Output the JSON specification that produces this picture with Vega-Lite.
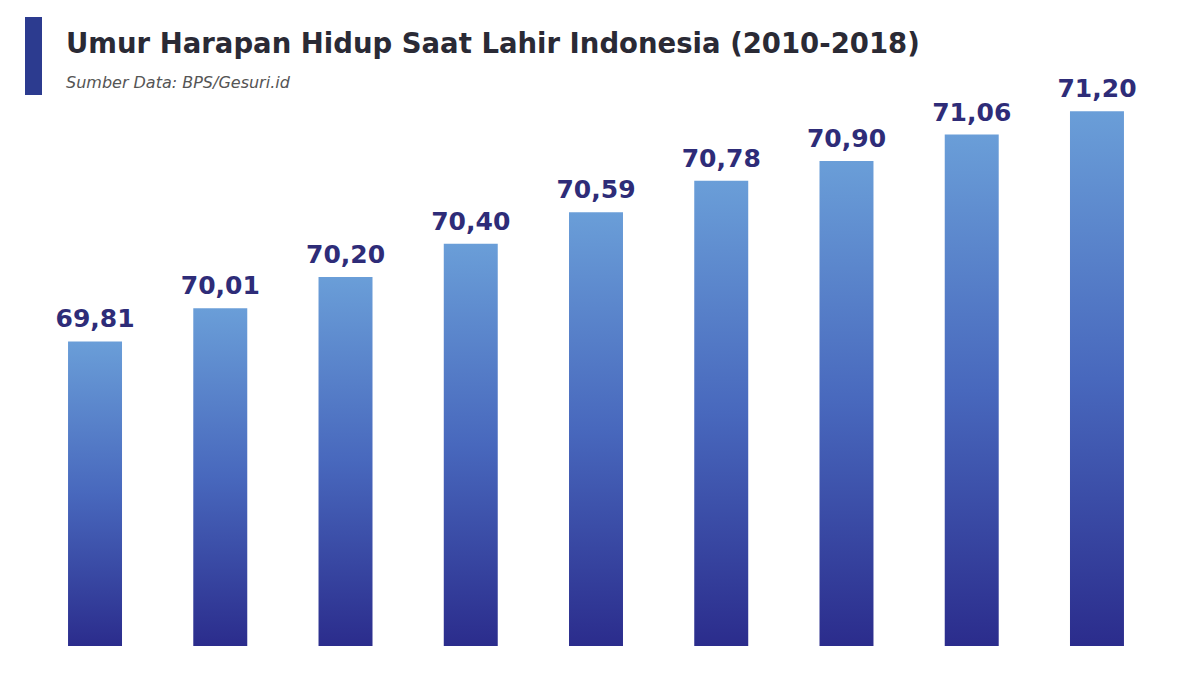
{
  "$schema": "https://vega.github.io/schema/vega-lite/v6.json",
  "background": "white",
  "padding": {"left": 25, "top": 17, "right": 0, "bottom": 0},
  "spacing": 8,
  "config": {"view": {"stroke": null}},
  "datasets": {
    "uhh": [
      {"tahun": "2010", "nilai": 69.81},
      {"tahun": "2011", "nilai": 70.01},
      {"tahun": "2012", "nilai": 70.20},
      {"tahun": "2013", "nilai": 70.40},
      {"tahun": "2014", "nilai": 70.59},
      {"tahun": "2015", "nilai": 70.78},
      {"tahun": "2016", "nilai": 70.90},
      {"tahun": "2017", "nilai": 71.06},
      {"tahun": "2018", "nilai": 71.20}
    ]
  },
  "hconcat": [
    {
      "width": 17,
      "height": 78,
      "view": {"fill": "#2c3b8f", "stroke": null},
      "data": {"values": []},
      "mark": "point"
    },
    {
      "width": 1092,
      "height": 629,
      "title": {
        "text": "Umur Harapan Hidup Saat Lahir Indonesia (2010-2018)",
        "subtitle": "Sumber Data: BPS/Gesuri.id",
        "anchor": "start",
        "frame": "group",
        "dx": 16,
        "offset": -74,
        "font": "DejaVu Sans",
        "fontSize": 27.5,
        "fontWeight": "bold",
        "color": "#2a2a35",
        "subtitleFont": "DejaVu Sans",
        "subtitleFontSize": 16,
        "subtitleFontStyle": "italic",
        "subtitleColor": "#555555",
        "subtitlePadding": 17
      },
      "data": {"name": "uhh"},
      "transform": [
        {"calculate": "replace(format(datum.nilai, '.2f'), '.', ',')", "as": "label"}
      ],
      "encoding": {
        "x": {
          "field": "tahun",
          "type": "nominal",
          "axis": null,
          "scale": {"paddingInner": 0.569, "paddingOuter": 0.144}
        },
        "y": {
          "field": "nilai",
          "type": "quantitative",
          "axis": null,
          "scale": {"domain": [67.97, 71.77], "zero": false, "nice": false}
        }
      },
      "layer": [
        {
          "mark": {
            "type": "bar",
            "color": {
              "gradient": "linear",
              "x1": 0, "y1": 0, "x2": 0, "y2": 1,
              "stops": [
                {"offset": 0, "color": "#6a9ed8"},
                {"offset": 0.5, "color": "#4868bd"},
                {"offset": 1, "color": "#2b2c8c"}
              ]
            }
          },
          "encoding": {"y2": {"datum": 67.97}}
        },
        {
          "mark": {
            "type": "text",
            "baseline": "alphabetic",
            "dy": -14,
            "font": "DejaVu Sans",
            "fontSize": 25,
            "fontWeight": "bold",
            "color": "#2e2c78"
          },
          "encoding": {"text": {"field": "label"}}
        }
      ]
    }
  ]
}
